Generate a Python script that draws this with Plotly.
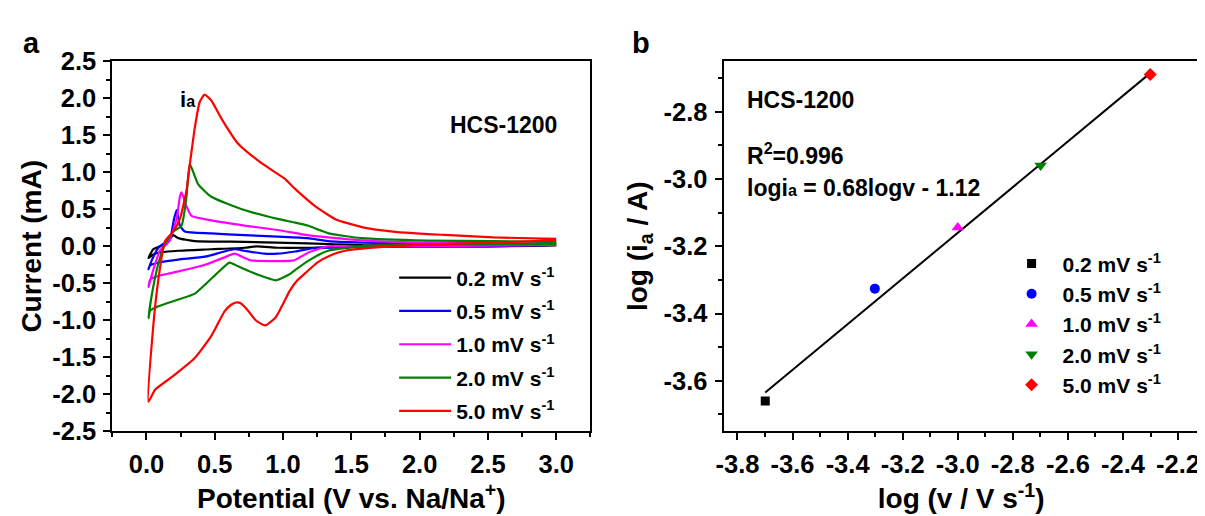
import plotly.graph_objects as go

FONT = "Liberation Sans, Arial, sans-serif"
W, H = 1205, 516
OFF = 8  # page body margin: screen coordinate = figure coordinate + OFF

# ---------------- Panel a: cyclic voltammograms ----------------
rate_labels = ["0.2 mV s<sup>-1</sup>", "0.5 mV s<sup>-1</sup>", "1.0 mV s<sup>-1</sup>",
               "2.0 mV s<sup>-1</sup>", "5.0 mV s<sup>-1</sup>"]
colors = ["#000000", "#0000ff", "#ff00ff", "#008000", "#ff0000"]

# 0.2 mV/s
pot_02_cat = [3.0, 2.5, 2.0, 1.5, 1.2, 0.96, 0.81, 0.72, 0.475, 0.233, 0.112, 0.05, 0.015]
cur_02_cat = [0.01, 0.0, -0.005, -0.01, -0.02, -0.02, 0.0, -0.02, -0.04, -0.06, -0.08, -0.11, -0.16]
pot_02_an = [0.015, 0.05, 0.1, 0.16, 0.197, 0.233, 0.354, 0.717, 1.18, 1.58, 2.0, 2.5, 3.0]
cur_02_an = [-0.16, -0.04, 0.0, 0.07, 0.15, 0.11, 0.07, 0.06, 0.04, 0.015, 0.01, 0.01, 0.02]

# 0.5 mV/s
pot_05_cat = [3.0, 2.5, 2.0, 1.5, 1.24, 1.09, 0.96, 0.862, 0.717, 0.644, 0.57, 0.43, 0.233, 0.088, 0.027, 0.015]
cur_05_cat = [0.02, 0.0, -0.005, -0.01, -0.02, -0.07, -0.1, -0.1, -0.06, -0.04, -0.07, -0.14, -0.18, -0.22, -0.26, -0.31]
pot_05_an = [0.015, 0.039, 0.088, 0.136, 0.17, 0.202, 0.221, 0.245, 0.281, 0.475, 0.717, 0.96, 1.18, 1.33, 1.58, 2.0, 2.5, 3.0]
cur_05_an = [-0.31, -0.19, -0.02, 0.05, 0.08, 0.37, 0.49, 0.28, 0.2, 0.175, 0.15, 0.13, 0.11, 0.07, 0.05, 0.035, 0.03, 0.04]

# 1.0 mV/s
pot_10_cat = [3.0, 2.5, 2.0, 1.5, 1.33, 1.19, 1.08, 0.96, 0.765, 0.644, 0.572, 0.43, 0.233, 0.088, 0.027, 0.015]
cur_10_cat = [0.02, 0.01, 0.0, -0.005, 0.0, -0.08, -0.19, -0.2, -0.19, -0.1, -0.15, -0.25, -0.34, -0.40, -0.45, -0.55]
pot_10_an = [0.015, 0.05, 0.099, 0.148, 0.17, 0.221, 0.245, 0.257, 0.293, 0.33, 0.475, 0.717, 0.96, 1.18, 1.33, 1.58, 2.0, 2.5, 3.0]
cur_10_an = [-0.55, -0.32, -0.06, 0.03, 0.08, 0.37, 0.67, 0.73, 0.54, 0.41, 0.35, 0.28, 0.22, 0.15, 0.12, 0.08, 0.05, 0.04, 0.03]

# 2.0 mV/s
pot_20_cat = [3.0, 2.5, 2.0, 1.58, 1.33, 1.19, 1.09, 1.055, 0.95, 0.81, 0.67, 0.608, 0.52, 0.354, 0.233, 0.088, 0.027, 0.015]
cur_20_cat = [0.03, 0.03, 0.02, 0.0, -0.06, -0.19, -0.32, -0.37, -0.46, -0.38, -0.27, -0.22, -0.36, -0.64, -0.72, -0.81, -0.87, -0.97]
pot_20_an = [0.015, 0.039, 0.088, 0.136, 0.197, 0.257, 0.293, 0.318, 0.378, 0.475, 0.717, 0.96, 1.09, 1.18, 1.334, 1.577, 2.06, 2.54, 3.0]
cur_20_an = [-0.97, -0.66, -0.23, 0.03, 0.2, 0.28, 0.67, 1.11, 0.84, 0.67, 0.49, 0.37, 0.32, 0.28, 0.175, 0.11, 0.077, 0.07, 0.06]

# 5.0 mV/s
pot_50_cat = [3.0, 2.54, 2.0, 1.82, 1.455, 1.35, 1.25, 1.165, 1.105, 1.05, 1.0, 0.947, 0.87, 0.8, 0.74, 0.69, 0.656, 0.62, 0.572, 0.475, 0.354, 0.184, 0.063, 0.015]
cur_50_cat = [0.08, 0.05, 0.02, 0.005, -0.06, -0.12, -0.22, -0.36, -0.46, -0.6, -0.78, -0.96, -1.07, -1.0, -0.86, -0.77, -0.76, -0.79, -0.88, -1.21, -1.51, -1.77, -1.94, -2.1]
pot_50_an = [0.015, 0.05, 0.088, 0.136, 0.197, 0.245, 0.293, 0.318, 0.354, 0.39, 0.426, 0.475, 0.548, 0.67, 0.838, 1.007, 1.092, 1.237, 1.383, 1.577, 1.82, 2.18, 2.54, 3.0]
cur_50_an = [-2.1, -1.08, -0.44, 0.07, 0.2, 0.37, 0.75, 1.11, 1.6, 1.95, 2.05, 1.97, 1.73, 1.39, 1.13, 0.92, 0.77, 0.54, 0.367, 0.26, 0.196, 0.154, 0.12, 0.1]

cv_pot = [(pot_02_cat, pot_02_an), (pot_05_cat, pot_05_an), (pot_10_cat, pot_10_an),
          (pot_20_cat, pot_20_an), (pot_50_cat, pot_50_an)]
cv_cur = [(cur_02_cat, cur_02_an), (cur_05_cat, cur_05_an), (cur_10_cat, cur_10_an),
          (cur_20_cat, cur_20_an), (cur_50_cat, cur_50_an)]

a_xticks = [0.0, 0.5, 1.0, 1.5, 2.0, 2.5, 3.0]
a_xticktext = ["0.0", "0.5", "1.0", "1.5", "2.0", "2.5", "3.0"]
a_yticks = [-2.5, -2.0, -1.5, -1.0, -0.5, 0.0, 0.5, 1.0, 1.5, 2.0, 2.5]
a_yticktext = ["-2.5", "-2.0", "-1.5", "-1.0", "-0.5", "0.0", "0.5", "1.0", "1.5", "2.0", "2.5"]

# ---------------- Panel b: log(ia) vs log(v) ----------------
log_v = [-3.699, -3.301, -3.0, -2.699, -2.301]
log_ia = [-3.66, -3.326, -3.144, -2.96, -2.689]
symbols = ["square", "circle", "triangle-up", "triangle-down", "diamond"]
sym_sizes = [9, 10, 11, 11, 10]
fit_x = [-3.699, -2.301]
fit_y = [-3.635, -2.685]

b_xticks = [-3.8, -3.6, -3.4, -3.2, -3.0, -2.8, -2.6, -2.4, -2.2]
b_xticktext = ["-3.8", "-3.6", "-3.4", "-3.2", "-3.0", "-2.8", "-2.6", "-2.4", "-2.2"]
b_yticks = [-3.6, -3.4, -3.2, -3.0, -2.8]
b_yticktext = ["-3.6", "-3.4", "-3.2", "-3.0", "-2.8"]


def px(xs):
    return (xs - OFF) / W


def py(ys):
    return 1 - (ys - OFF) / H


fig = go.Figure()

for k in range(5):
    pc, pa = cv_pot[k]
    cc, ca = cv_cur[k]
    fig.add_trace(go.Scatter(
        x=list(pc) + list(pa[1:]), y=list(cc) + list(ca[1:]),
        mode="lines", line=dict(color=colors[k], width=2.2, shape="spline", smoothing=0.5),
        name=rate_labels[k], legend="legend", legendgroup="a%d" % k,
        xaxis="x", yaxis="y"))

fig.add_trace(go.Scatter(x=fit_x, y=fit_y, mode="lines", line=dict(color="black", width=2),
                         showlegend=False, xaxis="x2", yaxis="y2"))
for k in range(5):
    fig.add_trace(go.Scatter(
        x=[log_v[k]], y=[log_ia[k]], mode="markers",
        marker=dict(symbol=symbols[k], size=sym_sizes[k], color=colors[k], line=dict(width=0)),
        name=rate_labels[k], legend="legend2", legendgroup="b%d" % k,
        xaxis="x2", yaxis="y2"))

tickfont = dict(family=FONT, size=25.5, color="black", weight="bold")
titlefont = dict(family=FONT, size=28, color="black", weight="bold")


def axis_common():
    return dict(showline=True, linewidth=2, linecolor="black", mirror=True,
                ticks="outside", ticklen=7, tickwidth=2, tickcolor="black",
                showgrid=False, zeroline=False, tickfont=tickfont, tickmode="array",
                ticklabelstandoff=2)


def minor(dt):
    return dict(tickmode="linear", tick0=0, dtick=dt, ticks="outside", ticklen=4,
                tickwidth=1.5, tickcolor="black")


xdomA = [px(105), px(586.7)]
xdomB = [px(721), px(1199.6)]
ydom = [py(440.7), py(49.6)]

xa = axis_common()
xa.update(domain=xdomA, range=[-0.25, 3.25], tickvals=a_xticks, ticktext=a_xticktext,
          anchor="y", minor=minor(0.25),
          title=dict(text="Potential (V vs. Na/Na<sup>+</sup>)", font=titlefont, standoff=12))
ya = axis_common()
ya.update(domain=ydom, range=[-2.5, 2.5], tickvals=a_yticks, ticktext=a_yticktext,
          anchor="x", minor=minor(0.25),
          title=dict(text="Current (mA)", font=titlefont, standoff=2))
xb = axis_common()
xb.update(domain=xdomB, range=[-3.85, -2.125], tickvals=b_xticks, ticktext=b_xticktext,
          anchor="y2", minor=minor(0.1),
          title=dict(text="log (v / V s<sup>-1</sup>)", font=titlefont, standoff=12))
yb = axis_common()
yb.update(domain=ydom, range=[-3.75, -2.65], tickvals=b_yticks, ticktext=b_yticktext,
          anchor="x2", minor=minor(0.1),
          title=dict(text="log (i<sub>a</sub> / A)", font=titlefont, standoff=8))

legfont = dict(family=FONT, size=21, color="black", weight="bold")
annfont = dict(family=FONT, size=23, color="black", weight="bold")
labfont = dict(family=FONT, size=29, color="black", weight="bold")

fig.update_layout(
    width=W, height=H, margin=dict(l=0, r=0, t=0, b=0),
    paper_bgcolor="white", plot_bgcolor="white",
    xaxis=xa, yaxis=ya, xaxis2=xb, yaxis2=yb,
    showlegend=True,
    legend=dict(x=px(389), y=py(257), xanchor="left", yanchor="top", font=legfont,
                bgcolor="rgba(0,0,0,0)", borderwidth=0, itemwidth=52, tracegroupgap=3,
                itemclick=False, itemdoubleclick=False),
    legend2=dict(x=px(1000), y=py(242), xanchor="left", yanchor="top", font=legfont,
                 bgcolor="rgba(0,0,0,0)", borderwidth=0, itemwidth=52, tracegroupgap=0,
                 itemclick=False, itemdoubleclick=False),
    annotations=[
        dict(text="a", x=px(24), y=py(30), xref="paper", yref="paper", showarrow=False,
             xanchor="center", yanchor="middle", font=labfont),
        dict(text="b", x=px(638), y=py(30), xref="paper", yref="paper", showarrow=False,
             xanchor="center", yanchor="middle", font=labfont),
        dict(text="HCS-1200", x=px(499), y=py(117), xref="paper", yref="paper", showarrow=False,
             xanchor="center", yanchor="middle", font=annfont),
        dict(text="i<span style='font-size:16px'>a</span>", x=px(181), y=py(90), xref="paper", yref="paper",
             showarrow=False, xanchor="center", yanchor="middle",
             font=dict(family=FONT, size=22, color="black", weight="bold")),
        dict(text="HCS-1200", x=px(742), y=py(90), xref="paper", yref="paper", showarrow=False,
             xanchor="left", yanchor="middle", font=annfont),
        dict(text="R<sup>2</sup>=0.996", x=px(742), y=py(148), xref="paper", yref="paper", showarrow=False,
             xanchor="left", yanchor="middle", font=annfont),
        dict(text="logi<span style='font-size:16px'>a</span> = 0.68logv - 1.12", x=px(742), y=py(183),
             xref="paper", yref="paper", showarrow=False, xanchor="left", yanchor="middle",
             font=annfont),
    ],
)

fig.write_html("out.html")
